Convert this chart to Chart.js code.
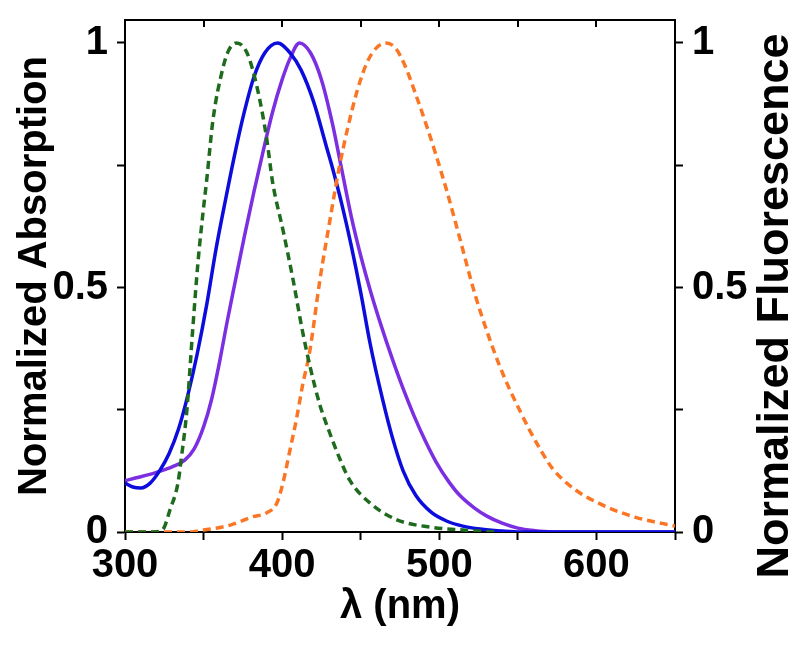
<!DOCTYPE html>
<html><head><meta charset="utf-8">
<script src="https://cdn.jsdelivr.net/npm/chart.js@4"></script>
<style>html,body{margin:0;padding:0;background:#fff}#wrap{width:800px;height:650px}</style>
</head><body><div id="wrap"><canvas id="c" width="800" height="650"></canvas></div>
<script>
// ---- data ----
const xTicks = [300, 350, 400, 450, 500, 550, 600, 650];
const xLabels = [300, 400, 500, 600];
const yTicks = [0, 0.25, 0.5, 0.75, 1];
const yLabels = [0, 0.5, 1];

const blueX = [300, 305, 310, 316, 322, 328, 334, 340, 346, 352, 358, 364, 370, 376, 382, 389, 397, 405, 412, 420, 428, 432, 438, 444, 450, 456, 464, 470, 477, 485, 495, 505, 515, 526, 540, 552, 650];
const blueY = [0.10, 0.092, 0.09, 0.10, 0.125, 0.16, 0.21, 0.28, 0.365, 0.465, 0.58, 0.68, 0.775, 0.86, 0.93, 0.98, 1.0, 0.98, 0.945, 0.88, 0.79, 0.745, 0.67, 0.585, 0.49, 0.385, 0.27, 0.195, 0.125, 0.075, 0.04, 0.022, 0.012, 0.006, 0.002, 0, 0];

const purpleX = [300, 310, 320, 330, 338, 344, 350, 355, 360, 365, 370, 376, 382, 388, 394, 400, 405, 411, 418, 425, 432, 438, 444, 450, 456, 463, 470, 477, 484, 491, 498, 506, 513, 522, 530, 540, 550, 560, 572, 650];
const purpleY = [0.105, 0.113, 0.122, 0.133, 0.147, 0.17, 0.215, 0.27, 0.345, 0.43, 0.51, 0.605, 0.695, 0.78, 0.86, 0.925, 0.968, 1.0, 0.98, 0.925, 0.835, 0.74, 0.645, 0.565, 0.495, 0.422, 0.355, 0.293, 0.237, 0.187, 0.143, 0.103, 0.075, 0.05, 0.033, 0.018, 0.008, 0.003, 0, 0];

const greenX = [300, 318, 324, 328.6, 333.7, 336, 339.4, 343, 346.4, 349.6, 352, 356, 362, 366, 371, 377.6, 384, 390, 394, 400.5, 407, 413, 418, 424, 430, 436, 443, 456, 473, 494, 515, 535];
const greenY = [0, 0, 0.005, 0.045, 0.10, 0.155, 0.25, 0.41, 0.55, 0.652, 0.72, 0.843, 0.945, 0.985, 1.0, 0.98, 0.91, 0.808, 0.714, 0.618, 0.515, 0.41, 0.335, 0.26, 0.205, 0.155, 0.106, 0.059, 0.025, 0.01, 0.004, 0];

const orangeX = [300, 340, 350, 367, 381, 390, 396.6, 400.5, 405, 409, 413, 417.6, 424, 430, 436, 442, 448, 454, 460, 466, 472, 478, 485, 492, 498, 505, 511, 516, 521, 526, 532, 538, 545, 551, 558, 565, 572, 585, 604, 625, 650];
const orangeY = [0, 0, 0.004, 0.014, 0.031, 0.039, 0.059, 0.10, 0.168, 0.229, 0.30, 0.37, 0.515, 0.63, 0.74, 0.83, 0.905, 0.96, 0.99, 1.0, 0.99, 0.955, 0.895, 0.83, 0.77, 0.695, 0.625, 0.565, 0.505, 0.452, 0.395, 0.343, 0.29, 0.25, 0.205, 0.165, 0.13, 0.09, 0.055, 0.03, 0.012];

const xTitle = 'λ (nm)';
const yTitle = 'Normalized Absorption';
const y2Title = 'Normalized Fluorescence';

// ---- chart ----
const FONT = "'Liberation Sans', Arial, sans-serif";
function pts(xs, ys) { return xs.map((x, i) => ({ x: x, y: ys[i] })); }
function line(data, color, dashed, axis) {
  return {
    data: data, borderColor: color, backgroundColor: color,
    borderWidth: 3.5, borderDash: dashed ? [8, 5] : [],
    pointRadius: 0, cubicInterpolationMode: 'monotone', fill: false, yAxisID: axis
  };
}

const extras = {
  id: 'extras',
  afterDraw(chart) {
    const ctx = chart.ctx;
    const xs = chart.scales.x;
    const top = chart.chartArea.top;
    ctx.save();
    ctx.strokeStyle = '#000';
    ctx.lineWidth = 2;
    xTicks.forEach(v => {
      if (v === 300 || v === 650) return;
      const px = Math.round(xs.getPixelForValue(v));
      ctx.beginPath();
      ctx.moveTo(px, top);
      ctx.lineTo(px, top + 7);
      ctx.stroke();
    });
    ctx.translate(776, 306);
    ctx.rotate(-Math.PI / 2);
    ctx.fillStyle = '#000';
    ctx.font = 'bold 45px ' + FONT;
    ctx.textAlign = 'center';
    ctx.textBaseline = 'middle';
    ctx.fillText(y2Title, 0, 0);
    ctx.restore();
  }
};

const tickFont = { family: FONT, size: 40, weight: 'bold' };
const yScale = (pos) => ({
  type: 'linear', position: pos, min: 0, max: 1.047,
  afterBuildTicks: s => { s.ticks = yTicks.map(v => ({ value: v })); },
  afterFit: s => { s.width = 125; s.paddingTop = 0; s.paddingBottom = 0; },
  ticks: {
    callback: v => (yLabels.includes(v) ? String(v) : ''),
    font: tickFont, color: '#000', padding: 9, autoSkip: false
  },
  grid: { drawOnChartArea: false, drawTicks: true, tickLength: 8, tickWidth: 2, tickColor: '#000' },
  border: { display: true, color: '#000', width: 2 },
  title: pos === 'left'
    ? { display: true, text: yTitle, color: '#000', font: { family: FONT, size: 40, weight: 'bold' }, padding: { top: 11, bottom: 0 } }
    : { display: false }
});

new Chart(document.getElementById('c'), {
  type: 'line',
  data: {
    datasets: [
      line(pts(greenX, greenY), '#1e6b1e', true, 'y2'),
      line(pts(orangeX, orangeY), '#fa7624', true, 'y2'),
      line(pts(blueX, blueY), '#0c0cdc', false, 'y'),
      line(pts(purpleX, purpleY), '#7b2ee2', false, 'y')
    ]
  },
  options: {
    responsive: false, animation: false, devicePixelRatio: 1,
    layout: { padding: 0 },
    plugins: { legend: { display: false }, tooltip: { enabled: false } },
    scales: {
      x: {
        type: 'linear', position: 'bottom', min: 300, max: 650,
        afterBuildTicks: s => { s.ticks = xTicks.map(v => ({ value: v })); },
        afterFit: s => { s.height = 118; s.paddingLeft = 0; s.paddingRight = 0; },
        ticks: { callback: v => (xLabels.includes(v) ? String(v) : ''), font: tickFont, color: '#000', padding: 2, maxRotation: 0, autoSkip: false },
        grid: { drawOnChartArea: false, drawTicks: true, tickLength: 8, tickWidth: 2, tickColor: '#000' },
        border: { display: true, color: '#000', width: 2 },
        title: { display: true, text: xTitle, color: '#000', font: { family: FONT, size: 40, weight: 'bold' }, padding: { top: 0, bottom: 19 } }
      },
      x2: {
        type: 'linear', position: 'top', min: 300, max: 650,
        afterFit: s => { s.height = 20; s.paddingLeft = 0; s.paddingRight = 0; },
        ticks: { display: false },
        grid: { display: false, drawTicks: false },
        border: { display: true, color: '#000', width: 2 }
      },
      y: yScale('left'),
      y2: yScale('right')
    }
  },
  plugins: [extras]
});
</script></body></html>
